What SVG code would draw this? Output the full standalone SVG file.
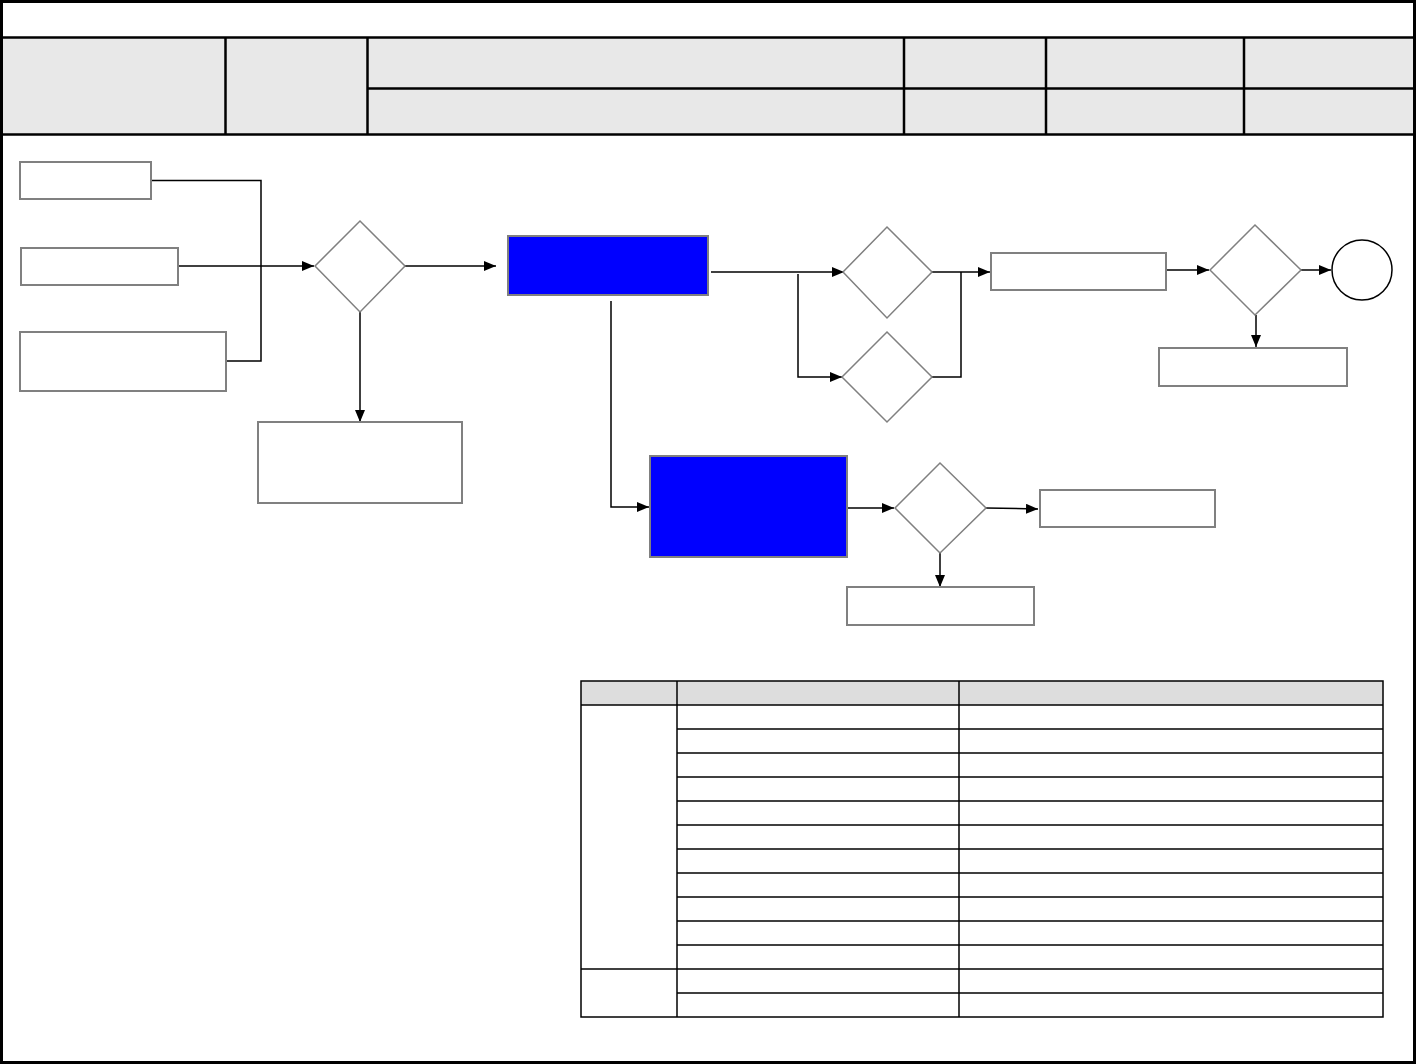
<svg xmlns="http://www.w3.org/2000/svg" width="1416" height="1064" viewBox="0 0 1416 1064">
<style>
.box{fill:#fff;stroke:#808080;stroke-width:2}
.blue{fill:#0000ff;stroke:#808080;stroke-width:2}
.dia{fill:#fff;stroke:#808080;stroke-width:1.5}
.cn{fill:none;stroke:#000;stroke-width:1.5}
.ar{fill:none;stroke:#000;stroke-width:1.5;marker-end:url(#ah)}
.tl{stroke:#000;stroke-width:1.5;fill:none}
.hl{stroke:#000;stroke-width:2.5;fill:none}
</style>
<defs>
<marker id="ah" viewBox="0 0 12 10" refX="12" refY="5" markerWidth="12" markerHeight="10" markerUnits="userSpaceOnUse" orient="auto"><path d="M0,0 L12,5 L0,10 z" fill="#000"/></marker>
</defs>
<rect x="0" y="0" width="1416" height="1064" fill="#fff"/>
<g id="header">
<rect x="2" y="38" width="1411" height="96" fill="#e8e8e8"/>
<line class="hl" x1="0" y1="37.5" x2="1416" y2="37.5" stroke-width="3"/>
<line class="hl" x1="0" y1="134.5" x2="1416" y2="134.5" stroke-width="3"/>
<line class="hl" x1="367" y1="88.5" x2="1413" y2="88.5"/>
<line class="hl" x1="225.5" y1="38" x2="225.5" y2="134"/>
<line class="hl" x1="367.5" y1="38" x2="367.5" y2="134"/>
<line class="hl" x1="904" y1="38" x2="904" y2="134"/>
<line class="hl" x1="1046" y1="38" x2="1046" y2="134"/>
<line class="hl" x1="1244" y1="38" x2="1244" y2="134"/>
</g>
<rect x="1.5" y="1.5" width="1413" height="1061" fill="none" stroke="#000" stroke-width="3"/>
<g id="connectors">
<polyline class="cn" points="151,180.5 261,180.5 261,361 226,361"/>
<line class="ar" x1="178" y1="266" x2="314" y2="266"/>
<line class="ar" x1="405" y1="266" x2="496" y2="266"/>
<line class="ar" x1="360" y1="312" x2="360" y2="422"/>
<line class="ar" x1="711" y1="272" x2="844" y2="272"/>
<polyline class="ar" points="798,274 798,377 842,377"/>
<polyline class="ar" points="932,272 990,272"/>
<polyline class="cn" points="932,377 961,377 961,272"/>
<line class="ar" x1="1167" y1="270" x2="1209" y2="270"/>
<line class="ar" x1="1301" y1="270" x2="1331" y2="270"/>
<line class="ar" x1="1256" y1="315" x2="1256" y2="347"/>
<polyline class="ar" points="611,301 611,507 649,507"/>
<line class="ar" x1="847" y1="508" x2="894" y2="508"/>
<line class="ar" x1="986" y1="508" x2="1038" y2="509"/>
<line class="ar" x1="940" y1="553" x2="940" y2="587"/>
</g>
<g id="nodeA"><rect class="box" x="20" y="162" width="131" height="37"/></g>
<g id="nodeB"><rect class="box" x="21" y="248" width="157" height="37"/></g>
<g id="nodeC"><rect class="box" x="20" y="332" width="206" height="59"/></g>
<g id="dec1"><polygon class="dia" points="360,221 405,266 360,312 315,266"/></g>
<g id="nodeD"><rect class="box" x="258" y="422" width="204" height="81"/></g>
<g id="blue1"><rect class="blue" x="508" y="236" width="200" height="59"/></g>
<g id="dec2"><polygon class="dia" points="887,227 932,272 887,318 843,272"/></g>
<g id="dec3"><polygon class="dia" points="887,332 932,377 887,422 842,377"/></g>
<g id="nodeE"><rect class="box" x="991" y="253" width="175" height="37"/></g>
<g id="dec4"><polygon class="dia" points="1255,225 1301,270 1255,315 1210,270"/></g>
<g id="end"><circle cx="1362" cy="270" r="30" fill="#fff" stroke="#000" stroke-width="1.5"/></g>
<g id="nodeF"><rect class="box" x="1159" y="348" width="188" height="38"/></g>
<g id="blue2"><rect class="blue" x="650" y="456" width="197" height="101"/></g>
<g id="dec5"><polygon class="dia" points="940,463 986,508 940,553 895,508"/></g>
<g id="nodeG"><rect class="box" x="1040" y="490" width="175" height="37"/></g>
<g id="nodeH"><rect class="box" x="847" y="587" width="187" height="38"/></g>
<g id="table">
<rect x="581" y="681" width="802" height="24" fill="#dddddd"/>
<rect class="tl" x="581" y="681" width="802" height="336"/>
<line class="tl" x1="581" y1="705" x2="1383" y2="705"/>
<line class="tl" x1="677" y1="681" x2="677" y2="1017"/>
<line class="tl" x1="959" y1="681" x2="959" y2="1017"/>
<line class="tl" x1="677" y1="729" x2="1383" y2="729"/>
<line class="tl" x1="677" y1="753" x2="1383" y2="753"/>
<line class="tl" x1="677" y1="777" x2="1383" y2="777"/>
<line class="tl" x1="677" y1="801" x2="1383" y2="801"/>
<line class="tl" x1="677" y1="825" x2="1383" y2="825"/>
<line class="tl" x1="677" y1="849" x2="1383" y2="849"/>
<line class="tl" x1="677" y1="873" x2="1383" y2="873"/>
<line class="tl" x1="677" y1="897" x2="1383" y2="897"/>
<line class="tl" x1="677" y1="921" x2="1383" y2="921"/>
<line class="tl" x1="677" y1="945" x2="1383" y2="945"/>
<line class="tl" x1="581" y1="969" x2="1383" y2="969"/>
<line class="tl" x1="677" y1="993" x2="1383" y2="993"/>
</g>
</svg>
